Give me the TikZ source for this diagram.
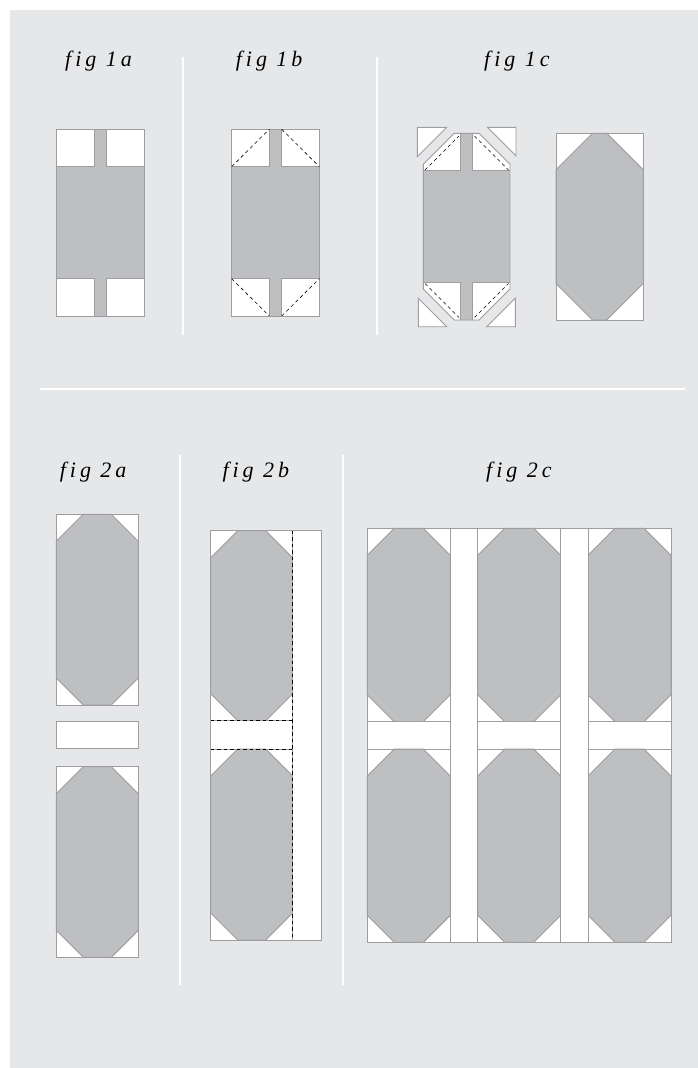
\documentclass[tikz,border=0pt]{standalone}
\usepackage{fontspec}
\newfontfamily\figfont[LetterSpace=18,Ligatures=NoCommon]{Liberation Serif}
\usetikzlibrary{positioning, calc}
\definecolor{pagebg}{RGB}{230, 231, 233}
\definecolor{fabricgray}{RGB}{190, 191, 193}
\definecolor{edgegray}{RGB}{158, 158, 160}

\tikzset{
    patch/.style={fill=white, draw=edgegray, line width=0.9pt},
    fabric/.style={fill=fabricgray, draw=edgegray, line width=0.9pt},
    seam/.style={draw=black, line width=0.6pt, dash pattern=on 3.5pt off 3pt},
    divider/.style={draw=white, line width=2pt},
    figlabel/.style={anchor=base west, inner sep=0pt, font=\figfont\itshape\fontsize{22}{26}\selectfont}
}

% block with four corner triangles: x, y, width, height, corner
\newcommand{\gemblock}[5]{%
    \fill[white] (#1,#2) rectangle ++(#3,#4);
    \filldraw[fabric] ({#1+#5},#2) -- ({#1+#3-#5},#2) -- ({#1+#3},{#2+#5}) -- ({#1+#3},{#2+#4-#5})
        -- ({#1+#3-#5},{#2+#4}) -- ({#1+#5},{#2+#4}) -- (#1,{#2+#4-#5}) -- (#1,{#2+#5}) -- cycle;
    \draw[edgegray, line width=0.9pt] (#1,#2) rectangle ++(#3,#4);
}

\begin{document}
\begin{tikzpicture}[x=1pt, y=-1pt]
    \useasboundingbox (0,0) rectangle (698,1068);
    \fill[white] (0,0) rectangle (698,1068);
    \fill[pagebg] (10,10) rectangle (698,1068);

    % dividers
    \draw[divider] (183,57) -- (183,335);
    \draw[divider] (377,57) -- (377,335);
    \draw[divider] (40,389) -- (685,389);
    \draw[divider] (180,455) -- (180,985);
    \draw[divider] (343,455) -- (343,985);

    % labels
    \node[figlabel] (lab1a) at (65,66.7) {fig 1a};
    \node[figlabel] (lab1b) at (235.7,66.7) {fig 1b};
    \node[figlabel] (lab1c) at (484,66.7) {fig 1c};
    \node[figlabel] (lab2a) at (59.7,477) {fig 2a};
    \node[figlabel] (lab2b) at (222.3,477) {fig 2b};
    \node[figlabel] (lab2c) at (486,477) {fig 2c};

    % fig 1a
    \filldraw[fabric] (56.7,129.3) rectangle (144.3,316);
    \foreach \sx in {56.7,106.7}
        \foreach \sy in {129.3,278.7}
            \filldraw[patch] (\sx,\sy) rectangle ++(37.6,37.3);

    % fig 1b
    \filldraw[fabric] (231.7,129.3) rectangle (319.3,316);
    \foreach \sx in {231.7,281.7}
        \foreach \sy in {129.3,278.7}
            \filldraw[patch] (\sx,\sy) rectangle ++(37.6,37.3);
    \draw[seam] (231.7,166.6) -- (269.3,129.3);
    \draw[seam] (281.7,129.3) -- (319.3,166.6);
    \draw[seam] (231.7,278.7) -- (269.3,316);
    \draw[seam] (281.7,316) -- (319.3,278.7);

    % fig 1c, cut block
    \begin{scope}
        \clip (454.3,133.3) -- (479,133.3) -- (510,164.3) -- (510,289) -- (479,320)
            -- (454.3,320) -- (423.3,289) -- (423.3,164.3) -- cycle;
        \filldraw[fabric] (423.3,133.3) rectangle (510,320);
        \foreach \sx in {423.3,472.7}
            \foreach \sy in {133.3,282.7}
                \filldraw[patch] (\sx,\sy) rectangle ++(37.3,37.3);
    \end{scope}
    \draw[edgegray, line width=0.9pt] (454.3,133.3) -- (479,133.3) -- (510,164.3) -- (510,289)
        -- (479,320) -- (454.3,320) -- (423.3,289) -- (423.3,164.3) -- cycle;
    \draw[seam] (425,170) -- (459,136);
    \draw[seam] (474.5,136) -- (508.5,170);
    \draw[seam] (425,283.5) -- (459,317.5);
    \draw[seam] (474.5,317.5) -- (508.5,283.5);
    \filldraw[patch] (417.3,127.3) -- (446.7,127.3) -- (417.3,156.7) -- cycle;
    \filldraw[patch] (487.5,127.3) -- (516,127.3) -- (516,155.8) -- cycle;
    \filldraw[patch] (418.3,298.3) -- (418.3,326.7) -- (446.7,326.7) -- cycle;
    \filldraw[patch] (486.7,326.7) -- (515.3,326.7) -- (515.3,298.3) -- cycle;

    % fig 1c, finished block
    \gemblock{556}{133.3}{87.3}{186.7}{36.5}

    % fig 2a
    \gemblock{56.3}{514.3}{82}{190.7}{27}
    \filldraw[patch] (56.3,721.7) rectangle (138.3,748.3);
    \gemblock{56.3}{766.7}{82}{190.6}{27}

    % fig 2b
    \gemblock{210.7}{530.7}{82}{190}{27}
    \filldraw[patch] (210.7,720.7) rectangle (292.7,749);
    \gemblock{210.7}{749}{82}{191}{27}
    \filldraw[patch] (292.7,530.7) rectangle (321.7,940);
    \draw[edgegray, line width=0.9pt] (210.7,530.7) rectangle (321.7,940);
    \draw[seam] (292.7,530.7) -- (292.7,940);
    \draw[seam] (210.7,720.7) -- (292.7,720.7);
    \draw[seam] (210.7,749) -- (292.7,749);

    % fig 2c
    \foreach \cx in {367.3,477.7,588} {
        \gemblock{\cx}{528.3}{83}{193.4}{27}
        \filldraw[patch] (\cx,721.7) rectangle ++(83,27.3);
        \gemblock{\cx}{749}{83}{193.3}{27}
    }
    \foreach \sx in {450.3,560.7}
        \filldraw[patch] (\sx,528.3) rectangle ++(27.4,414);
    \draw[edgegray, line width=0.9pt] (367.3,528.3) rectangle (671,942.3);
\end{tikzpicture}
\end{document}
